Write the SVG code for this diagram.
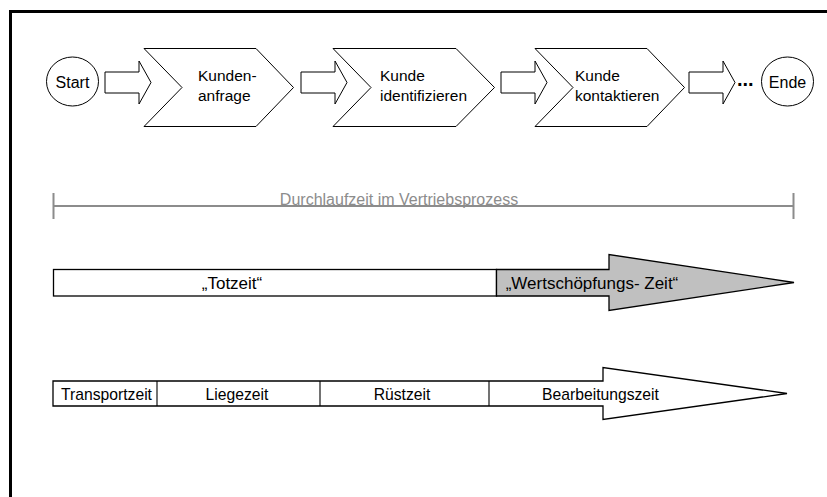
<svg xmlns="http://www.w3.org/2000/svg" width="827" height="497" viewBox="0 0 827 497">
  <style>
    text { font-family: "Liberation Sans", Arial, sans-serif; fill: #000; }
    .node { fill: #fff; stroke: #000; stroke-width: 1; }
    .lbl { font-size: 15.5px; }
    .mid { text-anchor: middle; }
    .bar { fill: #fff; stroke: #000; stroke-width: 1.3; }
    .bar-grey { fill: #c0c0c0; stroke: #000; stroke-width: 1.3; }
    .span { stroke: #8c8c8c; stroke-width: 2; fill: none; }
  </style>
  <defs>
    <!-- block arrow used between process steps -->
    <path id="blockArrow" d="M0,-10.5 H34 V-21.5 L46,0 L34,21.5 V10.5 H0 Z" fill="#fff" stroke="#000" stroke-width="1"/>
  </defs>

  <rect x="0" y="0" width="827" height="497" fill="#fff"/>
  <!-- frame (top and left edge) -->
  <path d="M10.5,497 V11.5 H827" fill="none" stroke="#000" stroke-width="3"/>

  <!-- process row -->
  <g id="start">
    <ellipse class="node" cx="72.5" cy="81.5" rx="26" ry="24.5"/>
    <text class="mid" x="72.5" y="88" font-size="16">Start</text>
  </g>

  <g id="kundenanfrage">
    <polygon class="node" points="144,48.5 256,48.5 293.5,87.5 256,126.5 144,126.5 182,87.5"/>
    <text class="lbl" x="198" y="80.5">Kunden-</text>
    <text class="lbl" x="198" y="101">anfrage</text>
  </g>

  <g id="kunde-identifizieren">
    <polygon class="node" points="333,48.5 456,48.5 494.5,87.5 456,126.5 333,126.5 371,87.5"/>
    <text class="lbl" x="380" y="80.5">Kunde</text>
    <text class="lbl" x="380" y="101">identifizieren</text>
  </g>

  <g id="kunde-kontaktieren">
    <polygon class="node" points="535,48.5 647,48.5 684.5,87.5 647,126.5 535,126.5 573,87.5"/>
    <text class="lbl" x="575" y="80.5">Kunde</text>
    <text class="lbl" x="575" y="101">kontaktieren</text>
  </g>

  <g id="ende">
    <ellipse class="node" cx="787.5" cy="81.5" rx="26" ry="24.5"/>
    <text class="mid" x="787.5" y="88" font-size="16">Ende</text>
  </g>

  <g id="connectors">
    <use href="#blockArrow" x="105" y="82.5"/>
    <use href="#blockArrow" x="301" y="82.5"/>
    <use href="#blockArrow" x="501" y="82.5"/>
    <use href="#blockArrow" x="689" y="82.5"/>
    <text x="737" y="85.5" font-size="20" font-weight="bold">...</text>
  </g>

  <!-- overall lead time span -->
  <g id="durchlaufzeit">
    <path class="span" d="M53.5,193 V219 M53.5,206 H793.5 M793.5,193 V219"/>
    <text class="mid" x="399" y="205" font-size="16" style="fill:#8c8c8c">Durchlaufzeit im Vertriebsprozess</text>
  </g>

  <!-- dead time vs. value-adding time -->
  <g id="zeitanteile">
    <rect class="bar" x="53.5" y="269.5" width="443" height="26.5"/>
    <polygon class="bar-grey" points="496.5,269.5 609,269.5 609,254.5 794,282.5 609,310.5 609,296 496.5,296"/>
    <text class="mid" x="232" y="288.5" font-size="17">„Totzeit“</text>
    <text class="mid" x="592" y="288.5" font-size="17">„Wertschöpfungs- Zeit“</text>
  </g>

  <!-- breakdown of lead time -->
  <g id="zeitarten">
    <polygon class="bar" points="53,381 603,381 603,367.5 787,393.5 603,419.5 603,406 53,406"/>
    <path d="M157,381 V406 M320,381 V406 M489,381 V406" stroke="#000" stroke-width="1.1"/>
    <text class="mid" x="106.5" y="400" font-size="15.7">Transportzeit</text>
    <text class="mid" x="237" y="400" font-size="15.7">Liegezeit</text>
    <text class="mid" x="402" y="400" font-size="15.7">Rüstzeit</text>
    <text class="mid" x="600.5" y="400" font-size="15.7">Bearbeitungszeit</text>
  </g>
</svg>
